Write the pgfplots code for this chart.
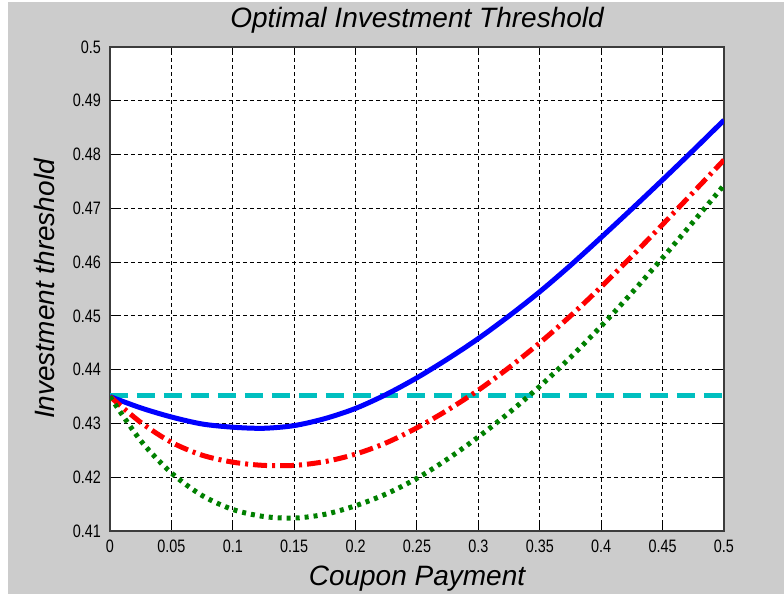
\documentclass[border=0pt]{standalone}
\usepackage{pgfplots}
\pgfplotsset{compat=1.18}
\usepackage{fontspec}
\setmainfont{Liberation Sans}
\newfontfamily\tickfont[FakeStretch=0.8]{Liberation Sans}
\definecolor{bg}{RGB}{204,204,204}
\definecolor{mblue}{RGB}{0,0,255}
\definecolor{mred}{RGB}{255,0,0}
\definecolor{mgreen}{RGB}{0,128,0}
\definecolor{mcyan}{RGB}{0,191,191}
\definecolor{axgray}{RGB}{60,60,60}
\begin{document}
\begin{tikzpicture}[x=1pt,y=1pt]
\fill[white] (-55,-31.5) rectangle (337,265.5);
\fill[bg] (-51,-31.5) rectangle (337,264.5);
\begin{axis}[
  at={(0,0)}, anchor=south west,
  scale only axis, width=307pt, height=242pt,
  xmin=0, xmax=0.5, ymin=0.41, ymax=0.5,
  xtick={0,0.05,0.1,0.15,0.2,0.25,0.3,0.35,0.4,0.45,0.5},
  ytick={0.41,0.42,0.43,0.44,0.45,0.46,0.47,0.48,0.49,0.5},
  /pgf/number format/.cd, fixed, precision=2, assume math mode=true, /pgfplots/.cd,
  tick label style={font=\tickfont\fontsize{9}{10}\selectfont, text=black},
  tick align=inside, major tick length=4pt,
  tick style={black, line width=0.5pt},
  axis line style={axgray, line width=0.8pt},
  axis background/.style={fill=white},
  grid=major,
  major grid style={black, line width=0.5pt, dash pattern=on 2pt off 1.5pt},
  xlabel={Coupon Payment},
  xlabel style={font=\itshape\fontsize{14}{16}\selectfont, at={(axis description cs:0.5,-0.099)}, anchor=center},
  ylabel={Investment threshold},
  ylabel style={font=\itshape\fontsize{14}{16}\selectfont, at={(axis description cs:-0.106,0.5)}, anchor=center},
  xticklabel style={yshift=-1pt},
  yticklabel style={xshift=-1pt},
  clip=true,
]
\addplot[mcyan, line width=2.2pt, dash pattern=on 9pt off 4.5pt] coordinates {(0,0.4352) (0.5,0.4352)};
\addplot[mblue, line width=2.5pt, smooth] coordinates {
(0,0.4350) (0.025,0.4329) (0.05,0.4312) (0.075,0.4299) (0.1,0.4293) (0.125,0.4291)
(0.15,0.4296) (0.175,0.4309) (0.2,0.4328) (0.225,0.4354) (0.25,0.4385) (0.275,0.4420)
(0.3,0.4458) (0.325,0.4500) (0.35,0.4545) (0.375,0.4594) (0.4,0.4646) (0.425,0.4699)
(0.45,0.4753) (0.475,0.4808) (0.5,0.4864)};
\addplot[mred, line width=2.5pt, smooth, dash pattern=on 7pt off 2.5pt on 1.5pt off 2.5pt] coordinates {
(0,0.4350) (0.025,0.4302) (0.05,0.4265) (0.075,0.4241) (0.1,0.4228) (0.125,0.4222)
(0.15,0.4222) (0.175,0.4229) (0.2,0.4243) (0.225,0.4264) (0.25,0.4292) (0.275,0.4325)
(0.3,0.4362) (0.325,0.4404) (0.35,0.4450) (0.375,0.4500) (0.4,0.4554) (0.425,0.4611)
(0.45,0.4670) (0.475,0.4730) (0.5,0.4790)};
\addplot[mgreen, line width=2.5pt, smooth, dash pattern=on 2pt off 2.5pt] coordinates {
(0,0.4350) (0.025,0.4268) (0.05,0.4208) (0.075,0.4166) (0.1,0.4140) (0.125,0.4127)
(0.15,0.4124) (0.175,0.4131) (0.2,0.4147) (0.225,0.4169) (0.25,0.4198) (0.275,0.4234)
(0.3,0.4275) (0.325,0.4320) (0.35,0.4369) (0.375,0.4423) (0.4,0.4481) (0.425,0.4543)
(0.45,0.4608) (0.475,0.4675) (0.5,0.4743)};
\end{axis}
\node[font=\itshape\fontsize{14}{16}\selectfont, anchor=center] at (153.5,255.5) {Optimal Investment Threshold};
\pgfresetboundingbox
\path (-55,-31.5) rectangle (337,265.5);
\end{tikzpicture}
\end{document}
